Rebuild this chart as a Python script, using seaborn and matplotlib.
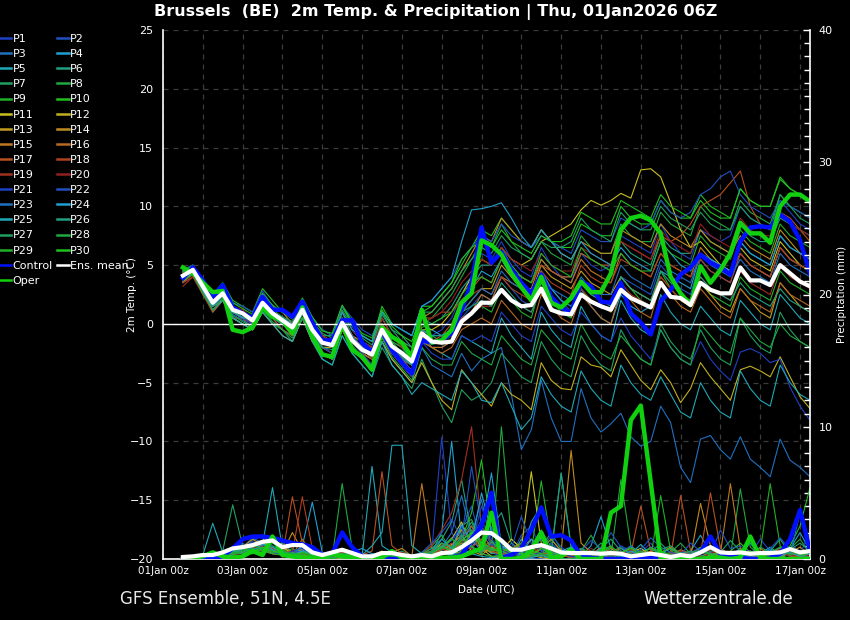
import numpy as np
import pandas as pd
import matplotlib
matplotlib.use('Agg')
import matplotlib.pyplot as plt
import matplotlib.dates as mdates
from matplotlib.lines import Line2D
from matplotlib.ticker import MultipleLocator
import seaborn as sns

# 6-hourly steps of the 06Z run: 01Jan 12Z .. 17Jan 06Z (64 steps)
times = pd.date_range('2026-01-01 12:00', periods=64, freq='6h')

# --- 2m temperature (deg C) ---
ctrl_temp = [3.9, 4.8, 3.7, 2.3, 3.3, 1.4, 0.9, 0.5, 2.3, 1.2, 1.2, 0.6, 1.9, 0.1, -1.4, -1.4,
             0.3, 0.3, -1.6, -2.4, -0.5, -2.2, -3.3, -4.2, -1.4, -1.6, -1.4, -0.8, 1.2, 3.5, 8.2, 5.2,
             6.1, 4.6, 3.5, 2.6, 4.2, 2.3, 1.4, 0.9, 3.6, 3.2, 1.9, 1.8, 3.5, 0.9, 0.1, -0.9,
             1.9, 2.9, 4.2, 4.8, 5.9, 5.2, 4.8, 4.2, 7.0, 8.2, 8.3, 8.2, 9.3, 8.7, 7.1, 4.3]
oper_temp = [4.8, 4.3, 3.5, 2.7, 2.8, -0.5, -0.7, -0.3, 1.4, 0.6, 0.3, -0.8, 1.4, -1.1, -2.6, -2.8,
             0.0, -2.2, -2.8, -3.9, -0.3, -1.1, -1.6, -2.8, 1.2, -1.6, -1.4, -0.5, 1.8, 2.6, 7.1, 6.7,
             5.9, 4.3, 3.1, 2.0, 4.0, 1.8, 1.4, 2.2, 3.6, 2.7, 2.7, 4.3, 8.0, 9.0, 9.2, 8.8,
             7.7, 4.0, 2.6, 1.6, 4.9, 3.5, 4.6, 6.0, 8.6, 7.7, 7.7, 6.9, 10.0, 11.0, 11.0, 10.4]
mean_temp = [4.1, 4.6, 3.2, 1.8, 2.6, 1.2, 0.9, 0.3, 1.8, 0.9, 0.3, -0.3, 1.2, -0.5, -1.6, -1.8,
             0.1, -1.4, -2.2, -2.6, -0.5, -1.9, -2.5, -3.2, -0.8, -1.5, -1.6, -1.5, 0.2, 0.9, 1.8, 1.8,
             2.9, 2.0, 1.5, 1.6, 3.0, 1.2, 0.9, 0.8, 2.5, 1.9, 1.5, 1.2, 2.9, 2.2, 1.8, 1.4,
             3.5, 2.3, 2.2, 1.6, 3.5, 2.9, 2.6, 2.6, 4.8, 3.7, 3.7, 3.3, 5.0, 4.3, 3.6, 3.2]

t01 = [4.2, 4.8, 3.0, 2.0, 3.0, 1.5, 1.0, 0.5, 2.5, 1.0, 0.5, 0.0, 1.5, -0.5, -2.0, -2.0,
       0.5, -1.0, -2.0, -3.0, 0.0, -1.5, -2.0, -3.5, -0.5, -1.0, -0.5, 0.5, 2.5, 4.0, 6.0, 5.5,
       7.0, 5.5, 4.5, 4.0, 6.5, 5.0, 4.0, 3.5, 6.0, 5.0, 4.5, 5.0, 7.5, 7.0, 6.5, 6.0,
       8.5, 7.0, 6.0, 5.5, 8.0, 7.5, 7.0, 7.5, 10.0, 9.0, 8.5, 8.0, 10.5, 9.5, 8.5, 8.0]
t02 = [4.0, 4.5, 3.5, 2.0, 2.5, 1.0, 0.5, 0.0, 1.5, 0.5, 0.0, -0.5, 1.0, -1.0, -2.0, -2.5,
       0.0, -1.5, -2.5, -3.0, -1.0, -2.5, -3.0, -4.0, -1.5, -2.0, -2.0, -1.5, 0.5, 1.5, 2.5, 2.0,
       4.0, 3.0, 2.0, 1.5, 4.5, 3.0, 2.0, 1.0, 3.5, 2.5, 2.0, 1.5, 4.0, 3.5, 3.0, 2.5,
       5.0, 4.0, 3.0, 2.5, 5.5, 4.5, 4.0, 3.5, 6.0, 5.0, 4.5, 4.0, 6.5, 5.5, 5.0, 4.5]
t03 = [4.5, 4.8, 3.0, 1.5, 2.5, 1.0, 0.5, 0.0, 2.0, 0.5, -0.5, -1.0, 0.5, -1.0, -2.5, -3.0,
       -0.5, -2.0, -3.0, -4.0, -1.5, -3.0, -4.0, -5.0, -2.0, -3.5, -4.0, -4.5, -2.5, -4.0, -3.0, -2.5,
       -2.0, -6.0, -10.7, -9.0, -4.8, -8.0, -10.0, -10.0, -5.5, -8.0, -9.2, -8.5, -7.6, -9.6, -10.4, -10.0,
       -7.0, -8.4, -12.2, -13.5, -9.8, -9.5, -10.7, -11.5, -9.6, -11.5, -12.2, -13.0, -9.8, -11.6, -12.2, -13.0]
t04 = [4.0, 4.5, 3.0, 2.0, 3.0, 1.5, 1.0, 0.5, 2.0, 1.0, 0.5, 0.0, 2.0, 0.0, -1.0, -1.5,
       1.0, -0.5, -1.5, -2.0, 0.5, -1.0, -2.0, -2.5, 0.0, -0.5, -1.0, -0.5, 1.5, 3.0, 4.5, 4.0,
       5.5, 4.0, 3.0, 2.5, 4.5, 3.0, 2.0, 1.5, 3.0, 1.5, 0.5, 0.0, 2.5, 1.5, 1.0, 1.5,
       4.5, 4.0, 3.5, 3.0, 6.0, 5.5, 5.0, 4.5, 7.0, 6.0, 5.5, 5.0, 7.5, 6.5, 6.0, 5.5]
t05 = [3.5, 4.5, 3.0, 1.0, 2.0, 0.5, 0.0, -0.5, 1.5, 0.5, 0.0, -0.5, 1.0, -1.0, -2.0, -2.0,
       0.5, -1.0, -2.0, -2.5, -0.5, -2.0, -3.0, -3.5, -1.0, -2.0, -2.5, -3.0, -1.0, -1.5, -2.0, -2.5,
       0.5, -1.0, -2.0, -3.0, 1.0, -0.5, -1.5, -2.0, 1.5, 0.0, -1.0, -1.5, 2.0, 0.5, -0.5, -1.0,
       2.5, 1.0, 0.0, -0.5, 1.5, 0.5, -0.5, -1.0, 2.0, 1.0, 0.0, -0.5, 2.5, 1.5, 0.5, 0.0]
t06 = [4.5, 5.0, 3.5, 2.0, 2.5, 1.0, 0.5, 0.5, 2.5, 1.5, 1.0, 0.5, 2.0, 0.0, -1.0, -1.0,
       1.5, 0.0, -1.0, -1.5, 1.0, -0.5, -1.0, -2.0, 0.5, 0.0, 0.5, 1.5, 3.0, 4.0, 5.0, 5.0,
       6.5, 5.0, 4.0, 3.5, 5.5, 4.5, 4.0, 4.0, 6.0, 5.5, 5.0, 4.5, 7.0, 6.0, 5.5, 5.0,
       7.5, 6.5, 6.0, 6.0, 8.0, 7.0, 6.5, 6.0, 8.5, 7.5, 7.0, 7.0, 9.0, 8.5, 8.0, 7.5]
t07 = [4.0, 4.5, 3.0, 1.5, 2.5, 1.0, 0.5, -0.5, 1.0, 0.0, -0.5, -1.5, 0.5, -1.5, -3.0, -3.5,
       -1.0, -2.5, -3.5, -4.5, -2.0, -3.5, -4.5, -5.5, -3.0, -5.0, -7.0, -8.4, -5.6, -6.5, -6.0, -5.0,
       -2.5, -3.5, -4.5, -5.0, -1.5, -3.0, -4.0, -4.5, -1.0, -2.5, -3.5, -4.0, -0.5, -2.0, -3.0, -3.5,
       0.0, -1.5, -2.5, -3.0, -0.5, -2.0, -3.0, -3.5, 0.5, -1.0, -2.0, -2.5, 1.0, -0.5, -1.5, -2.0]
t08 = [4.3, 4.7, 3.2, 2.0, 3.0, 1.5, 1.0, 0.5, 2.0, 1.0, 0.5, 0.0, 1.5, -0.5, -1.5, -2.0,
       0.5, -1.0, -2.0, -2.5, 0.0, -1.5, -2.5, -3.0, 0.0, 0.5, 1.5, 2.5, 4.0, 5.5, 7.0, 6.5,
       8.5, 7.0, 6.0, 5.5, 7.0, 6.0, 5.5, 5.0, 7.5, 6.5, 6.0, 6.0, 8.5, 7.5, 7.0, 7.0,
       9.5, 8.5, 8.0, 7.5, 10.0, 9.0, 8.5, 8.0, 10.5, 9.5, 9.0, 8.5, 11.0, 10.0, 9.5, 9.0]
t09 = [4.0, 4.3, 2.5, 1.5, 2.0, 0.5, 0.0, -0.5, 1.5, 0.5, 0.0, -0.5, 1.5, 0.0, -1.0, -1.5,
       1.0, -1.0, -2.0, -2.0, 0.0, -1.5, -2.0, -3.0, -0.5, -1.0, -1.5, -1.0, 0.5, 1.0, 1.5, 1.0,
       3.0, 2.0, 1.0, 0.5, 3.5, 2.0, 1.0, 0.5, 3.0, 2.0, 1.5, 1.0, 4.0, 3.0, 2.0, 1.5,
       4.5, 3.0, 2.0, 1.5, 3.5, 2.5, 2.0, 1.5, 4.0, 3.0, 2.5, 2.0, 4.5, 3.5, 3.0, 2.5]
t10 = [4.5, 5.0, 3.5, 2.5, 3.5, 2.0, 1.5, 1.0, 3.0, 2.0, 1.0, 0.5, 2.0, 0.5, -0.5, -1.0,
       1.5, 0.0, -1.0, -1.5, 1.5, 0.0, -0.5, -1.0, 1.5, 1.5, 2.5, 3.5, 5.0, 6.5, 8.0, 7.5,
       9.0, 8.0, 7.0, 6.5, 8.0, 7.0, 6.5, 6.5, 8.5, 8.0, 7.5, 7.5, 10.0, 9.0, 8.5, 8.5,
       10.5, 9.5, 9.0, 9.0, 11.0, 10.0, 9.5, 9.0, 11.5, 10.5, 10.0, 10.0, 12.3, 11.5, 11.0, 10.5]
t11 = [4.0, 4.5, 3.0, 2.0, 3.0, 1.5, 1.0, 0.0, 2.0, 1.0, 0.0, -0.5, 1.0, -0.5, -1.5, -2.0,
       0.5, -1.0, -2.0, -3.0, -0.5, -2.0, -3.0, -3.5, -0.5, -0.5, 0.0, 1.0, 2.5, 4.0, 5.5, 5.0,
       6.5, 5.5, 5.0, 5.5, 7.0, 7.5, 8.0, 8.5, 9.7, 10.5, 10.1, 10.5, 11.1, 10.7, 13.1, 13.2,
       12.5, 10.3, 8.0, 6.5, 7.0, 6.0, 5.0, 4.5, 6.5, 5.5, 5.0, 4.5, 7.0, 6.0, 5.0, 4.5]
t12 = [3.8, 4.3, 2.8, 1.5, 2.0, 0.5, 0.0, -0.5, 1.0, 0.0, -1.0, -1.5, 0.5, -1.5, -2.5, -3.0,
       -0.5, -2.0, -3.0, -3.5, -1.5, -3.0, -4.0, -5.0, -3.3, -5.0, -6.5, -7.3, -3.9, -5.0, -6.0, -7.0,
       -5.0, -6.0, -6.5, -7.3, -3.3, -4.8, -5.5, -5.6, -2.8, -3.5, -3.7, -4.5, -2.2, -3.5, -4.8, -5.6,
       -3.9, -5.0, -6.7, -5.5, -3.3, -4.5, -5.5, -6.5, -3.9, -3.6, -4.0, -4.5, -2.8, -4.5, -6.2, -7.2]
t13 = [4.2, 4.6, 3.3, 2.0, 2.5, 1.0, 1.0, 0.0, 2.0, 1.0, 0.5, 0.0, 1.5, -0.5, -2.0, -2.0,
       0.0, -1.5, -2.5, -3.0, -1.0, -2.5, -3.0, -4.0, -1.0, -1.5, -1.5, -1.0, 1.0, 2.0, 3.0, 3.0,
       5.0, 4.0, 3.0, 2.5, 5.0, 4.0, 3.5, 3.0, 4.5, 3.5, 3.0, 2.5, 4.0, 3.0, 2.5, 2.0,
       4.0, 3.0, 2.0, 1.5, 3.5, 2.5, 1.5, 1.0, 3.0, 2.0, 1.0, 0.5, 3.5, 2.5, 1.5, 1.0]
t14 = [4.4, 4.9, 3.5, 2.0, 3.0, 1.5, 1.0, 0.5, 2.5, 1.5, 1.0, 0.0, 1.5, 0.0, -1.0, -1.5,
       0.5, -1.0, -1.5, -2.0, 0.5, -1.0, -2.0, -2.5, 0.5, 1.0, 2.0, 3.0, 4.5, 6.0, 7.5, 7.0,
       9.0, 8.0, 7.0, 6.5, 8.0, 7.0, 6.0, 5.5, 7.0, 6.5, 6.0, 6.0, 8.0, 7.5, 7.0, 6.5,
       8.5, 7.5, 7.0, 6.5, 8.0, 7.0, 6.5, 6.0, 7.5, 6.5, 6.0, 5.5, 8.0, 7.0, 6.0, 5.5]
t15 = [3.6, 4.2, 3.0, 1.5, 2.5, 1.0, 0.5, 0.0, 1.5, 0.5, 0.0, -1.0, 0.5, -1.5, -2.5, -3.0,
       -0.5, -2.0, -3.0, -3.5, -1.0, -2.5, -3.5, -4.5, -1.5, -2.0, -2.0, -1.5, 0.0, 1.0, 2.5, 2.0,
       4.0, 3.5, 3.0, 3.0, 5.5, 4.5, 4.0, 3.5, 5.5, 4.5, 4.0, 3.5, 6.0, 5.0, 4.5, 4.0,
       6.0, 5.0, 4.5, 4.0, 6.5, 5.5, 5.0, 4.5, 6.0, 5.0, 4.5, 4.0, 6.5, 5.5, 5.0, 4.5]
t16 = [4.1, 4.5, 3.2, 1.8, 2.8, 1.2, 0.8, 0.3, 1.8, 0.8, 0.3, -0.5, 1.0, -1.0, -2.0, -2.5,
       0.0, -1.5, -2.5, -3.0, -0.5, -2.0, -3.0, -4.0, -1.0, -2.0, -2.5, -2.0, -0.5, 0.0, 0.5, 0.0,
       2.0, 1.0, 0.0, -0.5, 2.5, 1.5, 0.5, 0.0, 2.5, 1.5, 0.5, 0.0, 3.0, 2.0, 1.0, 0.5,
       3.5, 2.5, 1.5, 1.0, 3.0, 2.0, 1.0, 0.5, 3.0, 2.0, 1.5, 1.0, 3.5, 2.5, 2.0, 1.5]
t17 = [3.5, 4.0, 2.5, 1.0, 2.0, 0.5, 0.5, -0.5, 1.5, 0.5, -0.5, -1.0, 0.5, -1.0, -2.0, -2.5,
       0.0, -1.5, -2.5, -3.5, -1.0, -2.5, -3.5, -4.5, -1.0, -1.5, -1.0, 0.0, 2.0, 3.0, 4.0, 3.5,
       5.5, 4.5, 4.0, 3.5, 5.0, 4.5, 4.0, 4.0, 6.0, 5.5, 5.0, 5.0, 7.0, 6.5, 6.0, 5.5,
       7.5, 7.0, 7.5, 8.5, 10.0, 10.5, 11.0, 12.0, 13.0, 10.0, 8.5, 8.0, 9.5, 9.0, 8.0, 7.0]
t18 = [4.0, 4.5, 3.0, 1.8, 2.5, 1.0, 0.5, 0.0, 1.5, 1.0, 0.5, 0.0, 1.5, 0.0, -1.0, -1.5,
       0.5, -1.0, -2.0, -2.5, 0.0, -1.0, -1.5, -2.0, 0.5, 0.5, 1.0, 1.0, 2.0, 2.5, 3.0, 2.5,
       4.0, 3.0, 2.5, 2.0, 4.5, 3.5, 3.0, 2.5, 5.0, 4.0, 3.5, 3.5, 5.5, 5.0, 4.5, 4.0,
       6.0, 5.0, 4.5, 4.0, 5.5, 4.5, 4.0, 3.5, 6.0, 5.0, 4.5, 4.0, 6.5, 5.5, 5.0, 4.5]
t19 = [3.2, 4.0, 2.8, 1.5, 2.5, 1.0, 0.5, 0.0, 1.5, 0.5, 0.0, -0.5, 1.0, -1.0, -2.0, -2.5,
       0.5, -1.0, -2.0, -3.0, -0.5, -2.0, -3.0, -3.5, -0.5, -1.5, -1.5, -1.0, 0.5, 1.0, 1.5, 1.5,
       3.0, 2.0, 1.5, 1.0, 3.0, 2.0, 1.5, 1.0, 3.0, 2.0, 1.5, 1.0, 3.5, 2.5, 2.0, 1.5,
       4.0, 3.0, 2.0, 1.5, 4.0, 3.0, 2.5, 2.0, 4.5, 3.5, 3.0, 2.5, 5.0, 4.0, 3.5, 3.0]
t20 = [4.3, 4.7, 3.5, 2.2, 3.0, 1.5, 1.2, 0.5, 2.0, 1.0, 0.5, 0.0, 1.5, 0.0, -1.0, -1.5,
       1.0, -0.5, -1.5, -2.0, 0.5, -1.0, -2.0, -2.5, 0.0, 0.5, 1.0, 2.0, 3.5, 4.5, 5.5, 5.0,
       6.5, 5.5, 5.0, 4.5, 6.0, 5.0, 4.5, 4.5, 6.5, 6.0, 5.5, 5.0, 7.0, 6.5, 6.0, 5.5,
       8.0, 7.0, 6.5, 6.0, 8.5, 7.5, 7.0, 6.5, 9.0, 8.0, 7.5, 7.5, 9.5, 8.5, 8.0, 7.5]
t21 = [4.0, 4.6, 3.0, 1.8, 2.5, 1.0, 0.5, 0.0, 2.0, 1.0, 0.0, -0.5, 1.0, -1.0, -2.0, -2.5,
       0.0, -1.5, -2.5, -3.5, -1.0, -2.5, -3.5, -4.5, -1.5, -2.5, -3.0, -3.0, -1.0, -1.5, -1.0, -1.5,
       1.0, 0.0, -1.0, -1.5, 1.5, 0.5, -0.5, -1.0, 1.0, 0.0, -1.0, -1.5, 0.5, -1.0, -2.0, -3.0,
       -0.5, -2.0, -3.0, -3.5, -1.5, -3.0, -4.0, -4.8, -2.4, -2.1, -2.5, -3.3, -3.0, -5.4, -7.0, -8.2]
t22 = [4.6, 5.0, 3.6, 2.5, 3.2, 1.8, 1.5, 1.0, 2.8, 1.5, 1.0, 0.5, 2.0, 0.5, -0.5, -1.0,
       1.5, 0.5, -0.5, -1.0, 1.0, 0.0, -0.5, -1.0, 1.5, 2.0, 3.0, 4.0, 5.5, 6.5, 7.5, 7.0,
       8.5, 7.5, 7.0, 6.5, 7.5, 7.0, 6.5, 6.0, 8.0, 7.5, 7.0, 7.0, 9.0, 8.5, 8.0, 8.5,
       10.5, 9.5, 9.0, 9.5, 11.0, 11.5, 12.5, 13.0, 11.0, 10.0, 9.5, 9.0, 10.5, 10.0, 9.5, 9.0]
t23 = [3.8, 4.4, 3.0, 1.5, 2.2, 0.8, 0.3, -0.2, 1.5, 0.5, 0.0, -0.5, 1.0, -0.5, -1.5, -2.0,
       0.5, -1.0, -2.0, -2.5, -0.5, -2.0, -3.0, -3.5, -0.5, -1.0, -1.0, -0.5, 1.0, 2.0, 3.0, 2.5,
       4.5, 3.5, 3.0, 2.5, 4.0, 3.0, 2.5, 2.0, 4.0, 3.0, 2.5, 2.5, 5.0, 4.0, 3.5, 3.0,
       5.5, 4.5, 4.0, 3.5, 6.0, 5.0, 4.5, 4.0, 5.5, 4.5, 4.0, 3.5, 6.0, 5.0, 4.5, 4.0]
t24 = [4.2, 4.5, 3.0, 1.5, 2.5, 1.0, 0.5, 0.5, 2.0, 1.0, 0.5, 0.0, 1.5, -0.5, -1.5, -1.5,
       1.0, -0.5, -1.0, -1.5, 1.0, 0.0, -0.5, -1.0, 1.5, 2.0, 3.0, 4.0, 7.0, 9.7, 9.8, 10.0,
       10.3, 9.0, 7.5, 6.5, 8.0, 7.0, 6.0, 5.5, 7.0, 6.0, 5.5, 5.0, 6.5, 5.5, 5.0, 4.5,
       7.0, 6.0, 5.0, 4.5, 6.0, 5.5, 5.0, 4.5, 7.0, 6.0, 5.5, 5.0, 7.5, 6.5, 6.0, 5.5]
t25 = [3.9, 4.4, 2.8, 1.2, 2.0, 0.5, 0.0, -0.5, 1.0, 0.0, -1.0, -1.5, 0.5, -1.5, -3.0, -3.5,
       -1.0, -2.5, -3.5, -4.5, -1.5, -3.5, -4.5, -6.0, -5.0, -5.5, -6.0, -6.5, -4.0, -5.0, -6.5, -6.7,
       -5.0, -7.0, -9.0, -8.0, -4.5, -6.0, -7.0, -7.5, -4.0, -5.5, -6.5, -7.0, -3.5, -5.0, -6.0, -6.5,
       -4.5, -6.0, -7.5, -8.0, -5.0, -6.5, -7.5, -8.0, -4.0, -5.5, -6.5, -7.0, -3.5, -5.0, -6.0, -6.5]
t26 = [4.1, 4.7, 3.2, 1.6, 2.4, 1.0, 0.6, 0.2, 1.6, 0.6, 0.0, -0.8, 0.8, -0.8, -2.0, -2.2,
       0.2, -1.2, -2.2, -2.8, -0.8, -2.2, -2.8, -3.5, -0.5, -1.0, -1.0, -0.5, 1.0, 1.5, 2.0, 1.5,
       3.5, 2.5, 1.5, 1.0, 3.0, 2.0, 1.5, 1.0, 3.5, 2.5, 2.0, 1.5, 4.0, 3.0, 2.5, 2.0,
       4.5, 3.5, 2.5, 2.0, 4.0, 3.0, 2.5, 2.0, 3.5, 2.5, 2.0, 1.5, 3.0, 2.0, 1.5, 1.0]
t27 = [4.4, 4.8, 3.4, 2.2, 2.8, 1.3, 1.0, 0.6, 2.2, 1.2, 0.6, 0.2, 1.8, 0.2, -0.8, -1.2,
       1.2, -0.2, -1.2, -1.8, 0.8, -0.5, -1.5, -2.0, 1.0, 1.0, 2.0, 3.0, 4.5, 5.5, 6.5, 6.0,
       7.5, 6.5, 6.0, 5.5, 7.0, 6.5, 6.5, 7.0, 9.0, 8.0, 7.5, 7.0, 9.5, 8.5, 8.0, 8.0,
       10.0, 9.0, 8.5, 8.0, 9.5, 8.5, 8.0, 8.0, 10.0, 9.0, 8.5, 8.0, 11.0, 10.0, 9.0, 8.5]
t28 = [3.7, 4.2, 2.6, 1.2, 2.2, 0.7, 0.2, -0.3, 1.2, 0.2, -0.5, -1.2, 0.5, -1.2, -2.5, -3.0,
       -0.2, -1.8, -2.8, -3.8, -1.2, -2.8, -3.8, -4.8, -2.0, -3.0, -3.5, -3.5, -1.5, -2.5, -3.0, -3.5,
       -1.0, -2.0, -3.0, -3.5, -0.5, -1.5, -2.5, -3.0, 0.0, -1.5, -2.5, -3.0, -1.0, -2.0, -3.0, -3.5,
       -0.5, -2.0, -3.0, -3.5, 0.0, -1.0, -2.0, -2.5, 0.5, -0.5, -1.5, -2.0, 0.0, -1.0, -1.5, -2.0]
t29 = [4.2, 4.7, 3.1, 1.9, 2.6, 1.1, 0.8, 0.2, 1.9, 0.9, 0.2, -0.3, 1.3, -0.5, -1.5, -1.8,
       0.3, -1.3, -2.3, -2.7, -0.3, -1.8, -2.3, -3.0, -0.3, 0.0, 0.5, 1.0, 2.5, 3.5, 4.0, 3.5,
       5.5, 4.5, 4.0, 3.5, 6.0, 5.0, 4.5, 4.0, 6.5, 5.5, 5.0, 4.5, 6.0, 5.0, 4.5, 4.5,
       7.0, 6.0, 5.5, 5.0, 7.5, 6.5, 6.0, 5.5, 8.0, 7.0, 6.5, 6.0, 8.5, 7.5, 7.0, 6.5]
t30 = [4.6, 4.9, 3.3, 2.3, 3.3, 1.8, 1.3, 0.8, 2.6, 1.6, 1.0, 0.4, 2.2, 0.6, -0.6, -0.8,
       1.6, 0.2, -0.8, -1.2, 1.2, -0.2, -1.0, -1.5, 1.0, 1.5, 2.5, 3.5, 5.5, 6.5, 7.0, 6.5,
       8.0, 7.0, 6.5, 6.0, 7.5, 7.0, 7.0, 7.5, 9.5, 9.0, 8.5, 8.5, 10.5, 10.0, 9.5, 9.0,
       11.0, 10.0, 9.5, 9.0, 10.5, 9.5, 9.0, 9.0, 11.5, 10.5, 10.0, 10.0, 12.5, 11.5, 11.0, 10.5]

# --- 6-hourly precipitation (mm) ---
ctrl_prec = [0, 0, 0.1, 0.1, 0.2, 0.8, 1.5, 1.7, 1.7, 1.6, 1.4, 1.2, 1.1, 0.9, 0.3, 0.4,
             2.0, 0.9, 0.2, 0.1, 0, 0, 0, 0, 0, 0, 0, 0.1, 0.3, 1.5, 2.5, 5.0,
             0.1, 0.3, 0.8, 2.2, 3.9, 1.7, 1.8, 1.4, 0.2, 0.1, 0, 0, 0, 0, 0, 0.1,
             0, 0, 0, 0.2, 0.5, 1.7, 0.4, 0.2, 0.1, 0, 0, 0.1, 0.4, 1.5, 3.7, 0.6]
oper_prec = [0, 0.1, 0.2, 0.5, 0.2, 0.1, 0.2, 0.6, 0.3, 1.7, 0.3, 0.2, 0.1, 0.1, 0.1, 0.4,
             0.2, 0.1, 0, 0, 0.1, 0.6, 0.1, 0, 0, 0, 0.1, 0.1, 0.2, 0.5, 0.8, 3.5,
             0, 0, 0.1, 0.6, 2.0, 0.1, 0.2, 0.7, 0, 0, 0, 3.5, 4.0, 10.5, 11.6, 5.8,
             0, 0, 0, 0, 0, 0.1, 0.1, 0, 0.1, 1.7, 0.1, 0, 0, 0, 0, 0]
mean_prec = [0.15, 0.2, 0.3, 0.3, 0.5, 0.8, 0.9, 1.05, 1.3, 1.4, 0.9, 1.05, 1.05, 0.5, 0.3, 0.5,
             0.7, 0.45, 0.2, 0.2, 0.45, 0.45, 0.3, 0.2, 0.3, 0.2, 0.45, 0.5, 0.9, 1.4, 2.0, 1.95,
             1.4, 0.7, 0.7, 0.9, 1.05, 0.8, 0.5, 0.45, 0.45, 0.45, 0.4, 0.45, 0.4, 0.2, 0.3, 0.4,
             0.3, 0.15, 0.3, 0.2, 0.5, 0.9, 0.5, 0.45, 0.5, 0.4, 0.45, 0.45, 0.5, 0.75, 0.5, 0.6]

r01 = [0, 0, 0.2, 0.3, 0.1, 0.5, 1.2, 0.8, 0.6, 1.0, 0.4, 0.3, 0.8, 0.2, 0, 0.1,
       0.5, 0.2, 0, 0, 0.3, 0.1, 0, 0, 0.2, 0.6, 9.2, 2.0, 0.8, 1.5, 3.0, 1.2,
       0.5, 0.3, 1.8, 2.5, 0.6, 0.2, 0.4, 0.1, 0, 0.2, 0.8, 0.3, 0, 0, 0.5, 1.2,
       0.3, 0.1, 0, 0, 0.4, 0.8, 0.2, 0, 0, 0.3, 1.5, 0.6, 0.2, 0, 0, 0.4]
r02 = [0, 0.1, 0.1, 0.2, 0.4, 0.8, 0.6, 1.4, 1.8, 0.9, 0.5, 0.2, 0.6, 0.3, 0, 0,
       0.2, 0.6, 0.1, 0, 0, 0.2, 0.5, 0.1, 0, 0.3, 0.8, 1.5, 2.2, 4.0, 1.0, 0.5,
       0.2, 1.2, 0.6, 0.1, 0, 0.3, 0.8, 0.2, 0.1, 0, 0, 0.4, 1.0, 0.6, 0.2, 0,
       0, 0, 0.2, 0.5, 0.1, 0, 0, 0.3, 0.8, 0.2, 0, 0, 0.6, 1.4, 0.3, 0]
r03 = [0, 0, 0.1, 0.4, 0.2, 0.6, 0.9, 1.6, 1.2, 0.8, 0.3, 0.5, 0.9, 0.4, 0.1, 0,
       0.3, 0.1, 0, 0, 0, 0, 0.1, 0, 0, 0.2, 0.5, 0.3, 0.6, 1.8, 4.5, 0.9,
       0.3, 0.1, 0, 0, 0, 0, 0, 0, 0, 0, 0, 0, 0, 0, 0.1, 0,
       0, 0, 0, 0, 0, 0, 0, 0, 0, 0, 0, 0, 0, 0, 0.1, 0]
r04 = [0, 0, 0.2, 0.3, 0.5, 0.4, 0.8, 1.0, 0.7, 1.5, 0.6, 0.4, 1.0, 4.3, 0.5, 0.2,
       0.4, 0.2, 0, 0.1, 0.2, 0.4, 0.2, 0, 0.1, 0.5, 2.0, 8.9, 1.5, 0.8, 2.2, 6.5,
       1.0, 0.5, 0.3, 2.8, 4.0, 1.5, 0.6, 0.3, 0.2, 1.0, 3.2, 0.8, 0.2, 0, 0.4, 0.9,
       0.3, 0, 0.2, 0.6, 1.8, 0.4, 0.1, 0, 0.5, 1.2, 0.3, 0, 0.2, 0.8, 2.0, 0.6]
r05 = [0, 0.1, 0.3, 2.7, 0.5, 0.3, 0.6, 0.9, 1.1, 5.4, 0.8, 0.5, 0.7, 0.3, 0.2, 0,
       0.3, 0.1, 0.2, 7.0, 1.0, 0.5, 0.2, 0, 0.1, 0.3, 0.4, 0.8, 1.2, 2.5, 1.0, 0.4,
       0.6, 0.2, 1.5, 0.5, 0.2, 0.8, 0.3, 0.1, 0, 0.3, 0.6, 0.2, 0, 0.4, 1.1, 0.3,
       0, 0.2, 0.5, 0.1, 0, 0.3, 0.6, 0.2, 0, 0, 0.4, 0.9, 0.3, 0, 0.2, 0.5]
r06 = [0, 0, 0.1, 0.2, 0.3, 0.7, 0.5, 0.4, 0.9, 0.6, 1.2, 0.5, 0.3, 0.8, 0.2, 0.1,
       0, 0.2, 0.4, 0.1, 0, 0.3, 0.6, 0.2, 0.4, 0.8, 1.5, 2.8, 6.0, 1.8, 0.9, 2.4,
       3.5, 1.2, 0.6, 0.9, 1.6, 0.4, 6.5, 1.0, 0.4, 0.2, 0.8, 1.5, 0.6, 0.3, 0.1, 0.5,
       1.2, 0.4, 0.2, 0, 0.5, 0.9, 0.3, 0.1, 0.8, 0.3, 0.1, 0.6, 1.5, 0.4, 0.2, 0.8]
r07 = [0, 0, 0, 0.2, 0.6, 4.1, 1.0, 0.5, 0.4, 0.8, 0.3, 0.2, 0.5, 0.1, 0, 0,
       0.2, 0, 0, 0, 0.1, 0, 0, 0, 0, 0.2, 0.6, 0.3, 0.1, 0.8, 0.4, 0.2,
       0.1, 0, 0, 0.2, 0.3, 0, 0, 0, 0, 0, 0.1, 0.4, 0.2, 0, 0, 0,
       0.3, 0.1, 0, 0, 0, 0.2, 0.5, 0.1, 0, 0, 0, 0.3, 0.6, 0.2, 0, 0]
r08 = [0, 0.1, 0.2, 0.1, 0.4, 0.3, 0.9, 0.6, 0.5, 1.2, 0.7, 0.3, 0.4, 0.6, 0.2, 0.1,
       5.7, 0.8, 0.2, 0, 0.3, 0.1, 0, 0.2, 0.5, 1.0, 1.8, 0.6, 2.5, 3.0, 1.2, 0.5,
       10.0, 1.5, 0.8, 0.4, 0.9, 2.0, 0.7, 0.3, 0.6, 1.8, 0.5, 0.2, 6.0, 1.0, 0.4, 0.8,
       0.3, 0.5, 1.2, 0.4, 0.1, 0.6, 0.3, 0.2, 5.3, 0.9, 0.3, 0.6, 0.2, 0.8, 1.5, 0.4]
r09 = [0, 0, 0.1, 0.3, 0.2, 0.5, 0.7, 0.9, 1.3, 0.6, 0.4, 0.8, 0.3, 0.2, 0.1, 0.3,
       0.4, 0.2, 0.1, 0, 0, 0.1, 0.3, 0.1, 0.2, 0.4, 0.9, 1.6, 0.5, 2.2, 0.8, 1.4,
       0.6, 0.3, 1.0, 0.5, 5.9, 1.2, 0.4, 0.2, 0.8, 0.3, 0.1, 0.5, 0.9, 0.4, 0.2, 0.1,
       4.8, 0.6, 0.3, 0.1, 0.5, 0.2, 0.8, 0.3, 0.1, 0.4, 0.6, 5.7, 1.0, 0.3, 0.1, 0.2]
r10 = [0, 0, 0.2, 0.4, 0.3, 0.6, 0.5, 0.8, 1.0, 0.4, 0.6, 0.3, 0.2, 0.5, 0.1, 0,
       0.3, 0.1, 0, 0.1, 0.2, 0.4, 0.1, 0, 0.3, 0.6, 1.2, 0.8, 1.5, 3.5, 7.5, 2.0,
       1.2, 0.6, 0.4, 0.8, 1.8, 0.6, 0.3, 0.9, 0.4, 0.2, 0.6, 1.0, 0.3, 0.1, 0.5, 0.8,
       0.6, 0.2, 0.1, 0.4, 0.9, 0.3, 0.2, 0.6, 1.2, 0.5, 0.2, 0.1, 0.4, 1.0, 2.5, 5.4]
r11 = [0, 0, 0.1, 0.2, 0.4, 0.3, 0.6, 1.1, 0.8, 0.5, 0.9, 0.4, 0.2, 0.3, 0.1, 0,
       0.2, 0.5, 0.3, 0.1, 0, 0.2, 0.4, 0.1, 0.2, 0.3, 0.8, 1.5, 2.8, 0.9, 0.5, 1.0,
       0.6, 1.5, 0.8, 6.6, 1.2, 0.5, 0.3, 0.8, 0.3, 0.1, 0.4, 0.6, 0.2, 0.5, 0.8, 0.3,
       0.1, 0.3, 0.6, 0.2, 0, 0.1, 0.4, 0.2, 0.5, 0.2, 0.1, 0.3, 0.6, 0.2, 0, 0.1]
r12 = [0, 0.1, 0.1, 0.3, 0.6, 0.4, 0.8, 0.5, 0.9, 0.4, 0.3, 0.6, 0.2, 0.1, 0, 0,
       0.1, 0, 0.2, 0, 0, 0, 0.1, 0, 0, 0.3, 1.2, 0.6, 0.4, 2.0, 0.8, 0.2,
       0.1, 0, 0, 0.3, 0.1, 0, 0, 0, 0, 0, 0, 0.1, 0, 0, 0, 0.2,
       0, 0, 0, 0, 0.1, 0, 0, 0, 0, 0, 0.2, 0, 0, 0, 0, 0]
r13 = [0, 0, 0.3, 0.5, 0.2, 0.4, 0.9, 1.5, 1.0, 0.7, 0.4, 0.3, 0.8, 0.5, 0.2, 0.1,
       0.4, 0.3, 0.1, 0, 0.2, 0.5, 0.3, 0, 0.1, 0.4, 0.7, 1.1, 1.8, 0.6, 0.3, 0.9,
       0.4, 0.2, 0.8, 1.5, 0.6, 0.3, 0.1, 0.4, 0.7, 0.3, 0.2, 0.5, 0.1, 0, 0.3, 0.6,
       0.2, 0.1, 0.4, 0.2, 0, 0.3, 0.5, 0.1, 0, 0.2, 0.4, 0.1, 0.3, 0.5, 0.2, 0]
r14 = [0, 0.1, 0.2, 0.1, 0.3, 0.5, 0.4, 0.7, 1.2, 0.8, 0.5, 2.0, 0.6, 0.3, 0.1, 0.2,
       0.3, 0.6, 0.2, 0.1, 0.3, 0.5, 0.8, 0.2, 0.4, 0.6, 0.3, 1.0, 2.2, 1.4, 0.8, 0.5,
       1.0, 0.6, 0.4, 0.2, 0.8, 1.5, 0.6, 8.2, 1.2, 0.5, 0.3, 0.8, 0.4, 0.2, 0.6, 0.3,
       0.5, 0.9, 0.4, 0.2, 4.2, 1.0, 0.3, 0.6, 0.2, 0.4, 0.8, 0.3, 0.1, 0.5, 0.9, 0.3]
r15 = [0, 0, 0.1, 0.2, 0.5, 0.3, 0.7, 0.9, 0.6, 0.4, 1.0, 0.5, 0.3, 0.2, 0.1, 0,
       0.2, 0.4, 0.1, 0.3, 0.6, 0.2, 0.1, 0.2, 5.7, 0.8, 0.4, 0.6, 1.2, 0.9, 1.5, 0.6,
       0.3, 0.8, 1.2, 0.5, 0.3, 0.6, 0.2, 0.4, 0.6, 0.3, 0.9, 0.4, 0.2, 0.5, 0.3, 0.1,
       0.4, 0.2, 0.6, 0.3, 0.5, 0.8, 0.4, 5.7, 0.8, 0.3, 0.1, 0.4, 0.6, 0.2, 0.3, 0.5]
r16 = [0, 0.1, 0.2, 0.4, 0.3, 0.6, 0.5, 1.2, 0.9, 0.6, 0.4, 0.3, 1.5, 0.4, 0.2, 0.1,
       0.5, 0.3, 0.2, 0.1, 0.4, 0.6, 0.3, 0.1, 0.3, 0.5, 1.0, 0.7, 0.4, 1.2, 2.0, 0.8,
       0.5, 0.3, 0.6, 0.9, 0.4, 0.2, 0.5, 0.3, 0.2, 0.6, 0.3, 0.1, 0.4, 0.8, 0.5, 0.2,
       0.1, 0.3, 0.7, 0.4, 0.2, 0.5, 0.3, 0.1, 0.3, 0.6, 0.2, 0.4, 0.8, 0.3, 0.2, 0.6]
r17 = [0, 0, 0.1, 0.3, 0.2, 0.4, 0.8, 0.6, 1.0, 0.5, 0.3, 4.7, 1.2, 0.5, 0.2, 0.1,
       0.2, 0.5, 0.3, 0.6, 6.6, 1.0, 0.4, 0.2, 0.3, 0.5, 0.8, 0.4, 1.5, 2.5, 1.0, 0.6,
       0.4, 0.2, 0.6, 0.3, 0.9, 0.5, 0.2, 0.4, 0.3, 0.6, 0.2, 0.5, 0.8, 0.4, 4.0, 0.6,
       0.3, 0.2, 4.8, 0.6, 0.4, 5.0, 0.8, 0.3, 0.5, 0.2, 0.1, 0.4, 0.6, 0.3, 0.2, 0.1]
r18 = [0, 0.1, 0.3, 0.2, 0.5, 0.4, 0.6, 0.9, 1.4, 0.8, 0.6, 0.5, 4.7, 0.8, 0.3, 0.1,
       0.4, 0.2, 0.1, 0.3, 0.5, 0.2, 0.1, 0, 0.2, 0.4, 0.7, 1.2, 0.6, 0.9, 1.5, 0.7,
       0.5, 0.3, 0.8, 0.4, 0.2, 0.6, 0.3, 0.1, 0.4, 0.2, 0.5, 0.9, 0.3, 0.1, 0.6, 0.4,
       0.2, 0.5, 0.3, 0.1, 0.4, 0.7, 0.3, 0.2, 0.4, 0.6, 0.3, 0.2, 0.5, 0.3, 0.1, 0.4]
r19 = [0, 0, 0.2, 0.4, 0.3, 0.7, 1.0, 0.5, 0.8, 0.6, 0.4, 0.3, 0.5, 0.2, 0.1, 0,
       0.3, 0.1, 0.4, 0.2, 0.1, 0.3, 0.5, 0.2, 0.4, 1.0, 2.2, 3.5, 6.0, 10.0, 2.5, 1.2,
       0.6, 0.4, 1.0, 0.5, 0.3, 0.8, 0.4, 0.2, 0.5, 0.3, 0.6, 0.2, 0.4, 0.7, 0.3, 0.1,
       0.6, 0.3, 0.2, 0.5, 0.8, 0.4, 0.2, 0.3, 0.2, 0.5, 0.3, 0.1, 0.4, 0.6, 0.3, 0.2]
r20 = [0, 0.1, 0.1, 0.3, 0.4, 0.2, 0.5, 0.8, 1.0, 0.5, 0.3, 0.6, 0.4, 0.2, 0.1, 0.1,
       0.2, 0.4, 0.2, 0.1, 0.3, 0.5, 0.2, 0.1, 0.3, 0.6, 0.9, 0.5, 1.4, 0.8, 0.6, 1.0,
       0.7, 0.4, 0.2, 0.6, 0.9, 0.3, 0.2, 0.5, 0.3, 0.8, 0.4, 0.2, 0.6, 0.3, 0.5, 0.2,
       0.4, 0.2, 0.6, 0.3, 0.1, 0.4, 0.7, 0.3, 0.2, 0.4, 0.6, 0.3, 0.5, 0.2, 0.4, 0.3]
r21 = [0, 0, 0.2, 0.3, 0.4, 0.6, 1.0, 0.7, 0.9, 0.5, 0.3, 0.6, 0.8, 0.4, 0.1, 0,
       0.2, 0.1, 0, 0.2, 0.4, 0.1, 0, 0, 0.1, 0.5, 0.8, 1.4, 2.5, 1.0, 4.0, 1.5,
       0.8, 0.4, 0.6, 0.3, 0.5, 1.2, 0.5, 0.2, 0.1, 0.4, 0.2, 0, 0.1, 0.3, 0.1, 0,
       0, 0.2, 0.1, 0, 0, 0.1, 0, 0, 0, 0, 0.1, 0, 0, 0, 0, 0]
r22 = [0, 0.1, 0.1, 0.2, 0.3, 0.5, 0.9, 1.3, 1.1, 0.7, 0.4, 0.5, 0.6, 0.3, 0.2, 0.1,
       0.3, 0.6, 0.2, 0.4, 0.2, 0.1, 0.3, 0.2, 0.5, 1.2, 2.0, 3.0, 1.5, 7.0, 2.5, 1.0,
       1.5, 0.8, 3.2, 1.2, 0.6, 1.8, 0.9, 0.4, 0.6, 1.4, 0.8, 2.0, 0.9, 0.4, 0.7, 1.6,
       0.9, 0.5, 0.3, 1.2, 0.6, 0.3, 2.2, 0.8, 1.0, 0.5, 0.3, 0.8, 1.6, 0.7, 0.4, 2.0]
r23 = [0, 0, 0.1, 0.2, 0.6, 0.4, 0.7, 1.1, 0.8, 0.6, 0.3, 0.4, 0.9, 0.5, 0.2, 0.1,
       0.4, 0.2, 0.1, 0, 0.2, 0.3, 0.1, 0, 0.3, 0.6, 0.9, 2.0, 4.8, 1.5, 0.6, 2.4,
       0.9, 0.4, 0.2, 0.8, 1.5, 0.5, 0.3, 0.6, 0.4, 0.2, 0.7, 0.3, 0.5, 1.0, 0.4, 0.2,
       0.6, 0.3, 0.1, 0.5, 0.8, 0.4, 0.2, 0.1, 0.3, 0.6, 0.2, 0.4, 0.9, 0.3, 3.5, 0.8]
r24 = [0, 0.1, 0.2, 0.4, 0.3, 0.5, 0.8, 0.6, 1.1, 0.9, 0.5, 0.3, 0.6, 0.4, 0.2, 0.1,
       0.2, 0.5, 0.8, 0.4, 0.2, 0.1, 0.3, 0.1, 0.2, 0.4, 1.5, 0.8, 2.6, 1.2, 5.0, 2.0,
       1.0, 0.6, 0.4, 1.5, 0.8, 0.3, 0.6, 0.9, 0.5, 0.3, 0.8, 0.4, 0.2, 0.6, 0.3, 0.1,
       0.4, 0.8, 0.3, 0.2, 0.6, 0.4, 0.2, 0.5, 0.3, 0.1, 0.4, 0.7, 0.3, 0.5, 0.2, 0.4]
r25 = [0, 0, 0.2, 0.3, 0.4, 0.6, 0.5, 0.9, 1.2, 0.7, 0.4, 0.3, 0.6, 0.3, 0.1, 0,
       0.2, 0.1, 0.3, 1.0, 2.0, 8.6, 8.6, 1.0, 0.4, 0.2, 0.6, 0.3, 0.8, 0.4, 0.2, 0.1,
       0.2, 0, 0, 0.1, 0.3, 0, 0, 0, 0, 0.1, 0, 0, 0.2, 0, 0, 0,
       0.1, 0, 0, 0, 0, 0.2, 0, 0, 0, 0, 0, 0.1, 0, 0, 0, 0]
r26 = [0, 0, 0.1, 0.3, 0.2, 0.5, 0.7, 0.4, 0.9, 0.5, 0.6, 0.3, 0.5, 0.8, 0.3, 0.1,
       0.4, 0.2, 0.1, 0.3, 0.2, 0.4, 0.1, 0, 0.2, 0.5, 1.0, 0.6, 1.8, 0.9, 0.5, 1.3,
       0.6, 0.3, 0.9, 0.4, 0.2, 0.5, 6.5, 0.8, 0.4, 0.6, 0.3, 0.2, 0.8, 0.4, 0.1, 0.3,
       0.5, 0.2, 0.4, 0.6, 0.3, 0.1, 0.2, 0.5, 0.4, 0.2, 0.6, 0.3, 0.2, 0.5, 0.3, 0.1]
r27 = [0, 0.1, 0.2, 0.2, 0.4, 0.3, 0.6, 0.8, 0.7, 1.0, 0.5, 0.4, 0.3, 0.6, 0.2, 0.1,
       0.3, 0.5, 0.2, 0.1, 0.4, 0.2, 0.1, 0.2, 0.4, 0.8, 1.2, 0.9, 1.6, 2.8, 1.0, 0.7,
       1.4, 0.8, 0.5, 1.0, 2.2, 0.9, 0.6, 0.4, 0.8, 0.5, 1.2, 0.6, 0.4, 0.9, 0.5, 0.3,
       0.7, 1.0, 0.4, 0.3, 0.6, 0.8, 0.5, 1.4, 0.6, 0.3, 0.9, 0.5, 0.4, 0.7, 1.2, 0.6]
r28 = [0, 0, 0.1, 0.2, 0.3, 0.5, 0.4, 0.7, 0.6, 0.4, 0.3, 0.5, 0.2, 0.1, 0, 0,
       0.2, 0.1, 0, 0, 0.1, 0, 0, 0, 0.1, 0.3, 0.5, 0.2, 0.6, 1.0, 0.4, 0.2,
       0.3, 0.1, 0, 0.2, 0.4, 0.1, 0, 0, 0.2, 0, 0, 0.1, 0.3, 0.1, 0, 0,
       0.1, 0, 0, 0.2, 0, 0, 0.1, 0, 0.2, 0, 0, 0, 0.1, 0, 0, 0]
r29 = [0, 0.1, 0.2, 0.3, 0.5, 0.4, 0.6, 1.0, 0.8, 0.5, 0.7, 0.3, 0.4, 0.2, 0.1, 0.2,
       0.4, 0.3, 0.2, 0.1, 0.3, 0.2, 0.4, 0.1, 0.3, 0.6, 0.8, 1.5, 1.0, 2.0, 0.9, 0.6,
       0.8, 0.5, 1.2, 0.6, 0.4, 0.7, 0.3, 0.5, 0.6, 0.3, 0.5, 0.9, 0.4, 0.2, 0.6, 0.3,
       0.5, 0.8, 0.3, 0.2, 0.6, 0.4, 0.2, 0.3, 0.7, 0.4, 0.2, 0.5, 0.9, 0.3, 0.6, 0.4]
r30 = [0, 0, 0.1, 0.3, 0.2, 0.6, 0.8, 0.5, 0.9, 0.6, 0.4, 0.2, 0.5, 0.3, 0.1, 0,
       0.3, 0.2, 0.1, 0, 0.2, 0.3, 0.1, 0, 0.2, 0.4, 0.9, 0.6, 1.4, 2.0, 1.2, 0.8,
       0.5, 0.9, 0.4, 0.3, 0.8, 0.5, 0.2, 0.6, 0.4, 0.2, 0.7, 0.3, 0.5, 0.8, 0.3, 0.2,
       0.6, 0.3, 0.2, 0.4, 0.7, 0.3, 0.5, 0.2, 0.4, 0.6, 0.3, 0.2, 0.5, 0.8, 0.3, 0.4]

temp_members = [t01, t02, t03, t04, t05, t06, t07, t08, t09, t10, t11, t12, t13, t14, t15,
                t16, t17, t18, t19, t20, t21, t22, t23, t24, t25, t26, t27, t28, t29, t30]
prec_members = [r01, r02, r03, r04, r05, r06, r07, r08, r09, r10, r11, r12, r13, r14, r15,
                r16, r17, r18, r19, r20, r21, r22, r23, r24, r25, r26, r27, r28, r29, r30]
member_names = ['P%d' % i for i in range(1, 31)]

# P1..P20 run blue -> green -> yellow -> red, P21..P30 repeat P1..P10
base_colors = ['#2040c4', '#2050c0', '#2070c0', '#20a0d0', '#20a8b8', '#20a080', '#20a060',
               '#20a840', '#20b028', '#20c020', '#c8c020', '#c0b020', '#c09c20', '#c08c20',
               '#c07820', '#b86820', '#b85020', '#b04020', '#a03020', '#902020']
member_colors = base_colors + base_colors[:10]
palette = dict(zip(member_names, member_colors))

# long tables for seaborn
frames_t, frames_r = [], []
for name, tv, rv in zip(member_names, temp_members, prec_members):
    frames_t.append(pd.DataFrame({'time': times[:len(tv)], 'member': name, 'value': tv}))
    frames_r.append(pd.DataFrame({'time': times[:len(rv)], 'member': name, 'value': rv}))
df_temp = pd.concat(frames_t, ignore_index=True)
df_prec = pd.concat(frames_r, ignore_index=True)

fig = plt.figure(figsize=(8.5, 6.2), dpi=100, facecolor='black')
ax = fig.add_axes([163/850, 61/620, 647/850, 529/620])
ax.set_facecolor('black')
ax2 = ax.twinx()

# temperature
sns.lineplot(data=df_temp, x='time', y='value', hue='member', palette=palette,
             lw=0.8, legend=False, estimator=None, ax=ax, zorder=2)
ax.axhline(0, color='white', lw=1.0, zorder=3)
sns.lineplot(x=times, y=ctrl_temp, color='#0010ff', lw=3.2, ax=ax, zorder=4)
sns.lineplot(x=times, y=oper_temp, color='#10d010', lw=3.2, ax=ax, zorder=4)
sns.lineplot(x=times, y=mean_temp, color='white', lw=3.0, ax=ax, zorder=5)

# precipitation on the right axis
sns.lineplot(data=df_prec, x='time', y='value', hue='member', palette=palette,
             lw=0.8, legend=False, estimator=None, ax=ax2, zorder=2)
sns.lineplot(x=times, y=ctrl_prec, color='#0010ff', lw=3.2, ax=ax2, zorder=4)
sns.lineplot(x=times, y=oper_prec, color='#10d010', lw=3.2, ax=ax2, zorder=4)
sns.lineplot(x=times, y=mean_prec, color='white', lw=3.0, ax=ax2, zorder=5)

ax.set_xlim(pd.Timestamp('2026-01-01 00:00'), pd.Timestamp('2026-01-17 06:00'))
ax.set_ylim(-20, 25)
ax2.set_ylim(0, 40)

ax.yaxis.set_major_locator(MultipleLocator(5))
ax.xaxis.set_major_locator(mdates.DayLocator(bymonthday=range(1, 32, 2)))
ax.xaxis.set_minor_locator(mdates.DayLocator())
ax.xaxis.set_major_formatter(mdates.DateFormatter('%d%b %Hz'))
ax.grid(axis='y', color='#3c3c3c', ls=(0, (4, 4)), lw=0.9)
ax.grid(axis='x', which='both', color='#3c3c3c', ls=(0, (4, 4)), lw=0.9)
ax.set_axisbelow(True)

ax2.yaxis.set_major_locator(MultipleLocator(10))
ax2.yaxis.set_minor_locator(MultipleLocator(1))

ax.tick_params(axis='y', length=0, colors='white', labelsize=8, pad=7)
ax.tick_params(axis='x', which='both', length=0, colors='white', labelsize=7.5, pad=5)
ax2.tick_params(axis='y', which='major', direction='in', length=5, width=1, colors='white',
                labelsize=8, pad=6)
ax2.tick_params(axis='y', which='minor', direction='in', length=4, width=1, colors='white')

for s in ['top', 'right']:
    ax.spines[s].set_visible(False)
for s in ['top', 'left', 'bottom']:
    ax2.spines[s].set_visible(False)
ax.spines['left'].set_color('white')
ax.spines['bottom'].set_color('white')
ax2.spines['right'].set_color('white')
for s in [ax.spines['left'], ax.spines['bottom'], ax2.spines['right']]:
    s.set_linewidth(1.2)

ax.set_xlabel('Date (UTC)', color='white', fontsize=7.5, labelpad=6)
ax.set_ylabel('2m Temp. (°C)', color='white', fontsize=7.5, labelpad=-5)
ax2.set_ylabel('Precipitation (mm)', color='white', fontsize=7.5, labelpad=3)

# legend at the far left, two columns
h_col1 = [Line2D([], [], color=member_colors[i], lw=1.8) for i in range(0, 30, 2)]
l_col1 = [member_names[i] for i in range(0, 30, 2)]
h_col2 = [Line2D([], [], color=member_colors[i], lw=1.8) for i in range(1, 30, 2)]
l_col2 = [member_names[i] for i in range(1, 30, 2)]
handles = h_col1 + [Line2D([], [], color='#0010ff', lw=1.8), Line2D([], [], color='#10d010', lw=1.8)] \
    + h_col2 + [Line2D([], [], color='white', lw=1.8)]
labels = l_col1 + ['Control', 'Oper'] + l_col2 + ['Ens. mean']
fig.legend(handles, labels, loc='upper left', bbox_to_anchor=(0.0, 1 - 34/620), ncol=2,
           frameon=False, fontsize=8, labelcolor='white', handlelength=1.0,
           handletextpad=0.15, columnspacing=0.4, labelspacing=0.46, borderpad=0,
           borderaxespad=0)

fig.text(0.512, 1 - 12/620, 'Brussels  (BE)  2m Temp. & Precipitation | Thu, 01Jan2026 06Z',
         ha='center', va='center', color='white', fontsize=11.5, fontweight='bold')
fig.text(120/850, 1 - 599/620, 'GFS Ensemble, 51N, 4.5E', ha='left', va='center',
         color='#e8e8e8', fontsize=12)
fig.text(793/850, 1 - 599/620, 'Wetterzentrale.de', ha='right', va='center',
         color='#e8e8e8', fontsize=12)

fig.savefig('out.png', dpi=100, facecolor='black')
